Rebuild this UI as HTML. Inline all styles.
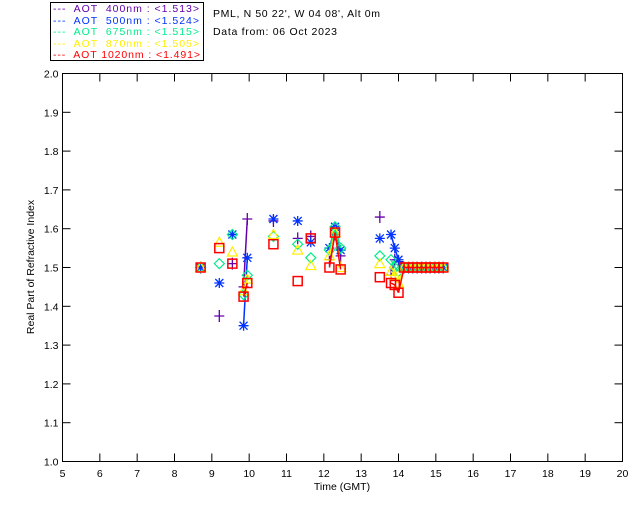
<!DOCTYPE html>
<html><head><meta charset="utf-8"><style>
body{margin:0;background:#fff;}
svg{display:block;font-family:"Liberation Sans",sans-serif;}
</style></head><body>
<svg id="chart" width="640" height="512" xmlns="http://www.w3.org/2000/svg">
<rect width="640" height="512" fill="#fff"/>
<g>
<rect x="50.5" y="2.5" width="153" height="58" fill="none" stroke="#000"/>
<g font-size="10.5">
<text x="53" y="12" fill="#6600aa" textLength="146" lengthAdjust="spacing" xml:space="preserve">---  AOT  400nm : &lt;1.513&gt;</text>
<text x="53" y="24" fill="#0033ff" textLength="146" lengthAdjust="spacing" xml:space="preserve">---  AOT  500nm : &lt;1.524&gt;</text>
<text x="53" y="35" fill="#00ee88" textLength="146" lengthAdjust="spacing" xml:space="preserve">---  AOT  675nm : &lt;1.515&gt;</text>
<text x="53" y="47" fill="#ffee00" textLength="146" lengthAdjust="spacing" xml:space="preserve">---  AOT  870nm : &lt;1.505&gt;</text>
<text x="53" y="58" fill="#ff0000" textLength="147" lengthAdjust="spacing" xml:space="preserve">---  AOT 1020nm : &lt;1.491&gt;</text>
</g></g>
<text x="213" y="17" font-size="10.5" textLength="167" lengthAdjust="spacing">PML, N 50 22', W 04 08', Alt 0m</text>
<text x="213" y="35" font-size="10.5" textLength="124" lengthAdjust="spacing">Data from: 06 Oct 2023</text>
<rect x="62.5" y="73.5" width="560" height="388" fill="none" stroke="#000"/>
<g id="axes"></g>
<g id="marks"></g>
<text x="342" y="490" font-size="10.5" text-anchor="middle">Time (GMT)</text>
<text transform="translate(34,267) rotate(-90)" font-size="10.5" text-anchor="middle">Real Part of Refractive Index</text>
</svg>
<script>
const times=[8.7,9.2,9.55,9.85,9.95,10.65,11.3,11.65,12.15,12.3,12.45,13.5,13.8,13.9,14.0,14.15,14.27,14.38,14.5,14.62,14.73,14.85,14.97,15.08,15.2];
const tail=[1.5,1.5,1.5,1.5,1.5,1.5,1.5,1.5,1.5,1.5];
const v400=[1.50,1.375,1.51,1.45,1.625,1.62,1.575,1.58,1.52,1.585,1.53,1.63,1.48,1.52,1.515].concat(tail);
const v500=[1.50,1.46,1.585,1.35,1.525,1.625,1.62,1.565,1.55,1.605,1.545,1.575,1.585,1.55,1.52].concat(tail);
const v675=[1.50,1.51,1.585,1.43,1.48,1.58,1.56,1.525,1.545,1.605,1.55,1.53,1.52,1.50,1.49].concat(tail);
const v870=[1.50,1.565,1.54,1.44,1.47,1.585,1.545,1.505,1.53,1.59,1.50,1.51,1.49,1.48,1.46].concat(tail);
const v1020=[1.50,1.55,1.51,1.425,1.46,1.56,1.465,1.575,1.50,1.59,1.495,1.475,1.46,1.455,1.435].concat(tail);
const xTicks=[5,6,7,8,9,10,11,12,13,14,15,16,17,18,19,20];
const yTicks=[1.0,1.1,1.2,1.3,1.4,1.5,1.6,1.7,1.8,1.9,2.0];

const NS="http://www.w3.org/2000/svg";
const X0=62.5,X1=622.5,Y0=461.5,Y1=73.5;
function xs(t){return X0+(t-5)/15*(X1-X0);}
function ys(v){return Y0-(v-1)*(Y0-Y1);}
function mk(tag,attrs,parent){const e=document.createElementNS(NS,tag);for(const k in attrs)e.setAttribute(k,attrs[k]);parent.appendChild(e);return e;}
const axes=document.getElementById('axes'),marks=document.getElementById('marks');
xTicks.forEach(t=>{
  const x=xs(t);
  const a=mk('line',{x1:x,x2:x,y1:Y0,y2:Y0-8,stroke:'#000'},axes);
  
  
  mk('line',{x1:x,x2:x,y1:Y1,y2:Y1+8,stroke:'#000'},axes);
  const l=mk('text',{x:x,y:477,'font-size':'10.5','text-anchor':'middle'},axes);
  l.textContent=t;
  
  
});
yTicks.forEach(v=>{
  const y=ys(v);
  const a=mk('line',{x1:X0,x2:X0+8,y1:y,y2:y,stroke:'#000'},axes);
  
  
  mk('line',{x1:X1,x2:X1-8,y1:y,y2:y,stroke:'#000'},axes);
  const l=mk('text',{x:X0-4,y:y+4,'font-size':'10.5','text-anchor':'end'},axes);
  l.textContent=v.toFixed(1);
  
  
});
function series(vals,color,shape,name){
  const g=mk('g',{},marks);
  
  
  for(let i=1;i<vals.length;i++){
    if(vals[i]==null||vals[i-1]==null)continue;
    if(times[i]-times[i-1]>0.2)continue;
    mk('line',{x1:xs(times[i-1]),y1:ys(vals[i-1]),x2:xs(times[i]),y2:ys(vals[i]),stroke:color,'stroke-width':1.5},g);
  }
  vals.forEach((v,i)=>{
    if(v==null)return;
    const x=xs(times[i]),y=ys(v);let e;
    if(shape==='plus'){e=mk('path',{d:`M${x-5},${y}H${x+5}M${x},${y-6}V${y+6}`,stroke:color,fill:'none','stroke-width':1.3},g);}
    else if(shape==='star'){e=mk('path',{d:`M${x-5},${y}H${x+5}M${x},${y-5}V${y+5}M${x-4},${y-4}L${x+4},${y+4}M${x-4},${y+4}L${x+4},${y-4}`,stroke:color,fill:'none','stroke-width':1.3},g);}
    else if(shape==='diamond'){e=mk('path',{d:`M${x},${y-5}L${x+5},${y}L${x},${y+5}L${x-5},${y}Z`,stroke:color,fill:'none','stroke-width':1.2},g);}
    else if(shape==='tri'){e=mk('path',{d:`M${x},${y-5}L${x+5},${y+4}L${x-5},${y+4}Z`,stroke:color,fill:'none','stroke-width':1.2},g);}
    else {e=mk('rect',{x:x-4.5,y:y-4.5,width:9,height:9,stroke:color,fill:'none','stroke-width':1.5},g);}
    
    
  });
}
series(v400,'#6600aa','plus','aot-400');
series(v500,'#0033ff','star','aot-500');
series(v675,'#00ee88','diamond','aot-675');
series(v870,'#ffee00','tri','aot-870');
series(v1020,'#ff0000','square','aot-1020');
</script>
</body></html>
